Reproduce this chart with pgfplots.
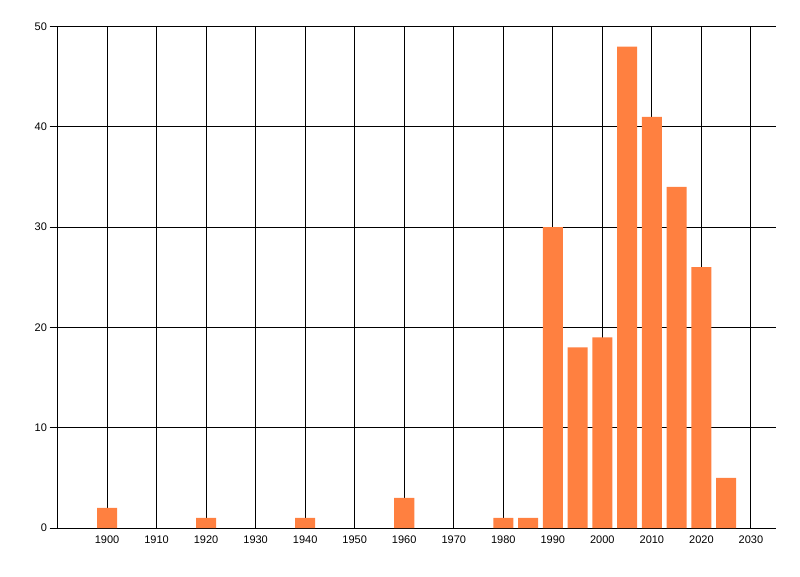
\documentclass[border=0pt]{standalone}
\usepackage{pgfplots}
\pgfplotsset{compat=1.18}
\usepackage{fontspec}
\setmainfont{Liberation Sans}
\definecolor{barorange}{RGB}{255,128,64}
\begin{document}
\begin{tikzpicture}
\path[use as bounding box] (0,0) rectangle (800pt,576pt);
\begin{axis}[
    at={(57.5pt,48pt)}, anchor=south west,
    scale only axis,
    width=718.2pt, height=501.5pt,
    xmin=1890, xmax=2035,
    ymin=0, ymax=50,
    xtick={1900,1910,...,2030},
    ytick={0,10,...,50},
    axis x line*=bottom, axis y line*=left,
    x axis line style={-, line width=1pt},
    y axis line style={-, line width=1pt},
    grid=major,
    major grid style={black, line width=1pt},
    tick align=outside,
    xtick style={draw=none},
    ytick style={black, line width=1pt},
    major tick length=8pt,
    /pgf/number format/assume math mode=true,
    /pgf/number format/1000 sep={},
    tick label style={font=\fontsize{11}{13}\selectfont},
    yticklabel style={xshift=1pt},
    xticklabel style={yshift=4pt},
    ybar, bar width=4.05,
]
\addplot[fill=barorange, draw=none] coordinates {
(1900,2) (1920,1) (1940,1) (1960,3) (1980,1) (1985,1)
(1990,30) (1995,18) (2000,19) (2005,48) (2010,41) (2015,34)
(2020,26) (2025,5)
};
\end{axis}
\end{tikzpicture}
\end{document}
